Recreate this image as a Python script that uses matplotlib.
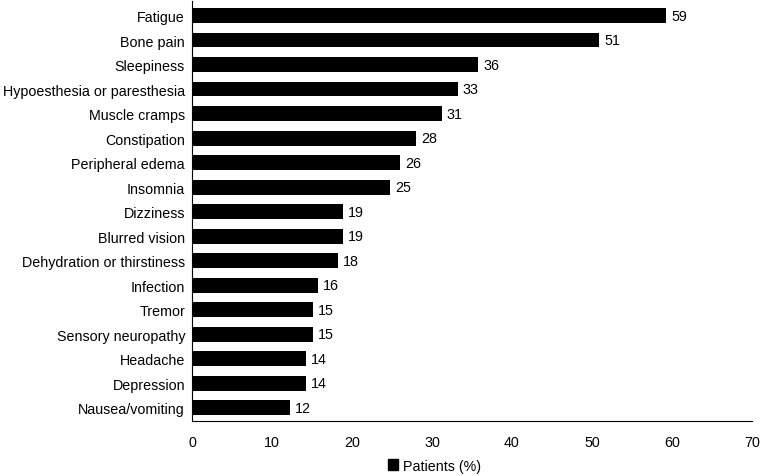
import matplotlib.pyplot as plt
from matplotlib.patches import Patch

plt.rcParams["font.family"] = ["Liberation Sans", "DejaVu Sans"]

SYMPTOMS = [
    "Fatigue",
    "Bone pain",
    "Sleepiness",
    "Hypoesthesia or paresthesia",
    "Muscle cramps",
    "Constipation",
    "Peripheral edema",
    "Insomnia",
    "Dizziness",
    "Blurred vision",
    "Dehydration or thirstiness",
    "Infection",
    "Tremor",
    "Sensory neuropathy",
    "Headache",
    "Depression",
    "Nausea/vomiting",
]

# bar lengths as drawn, and the rounded labels printed next to them
PATIENTS_PCT = [59.3, 50.9, 35.8, 33.2, 31.2, 28.0, 26.0, 24.8, 18.9, 18.9,
                18.3, 15.7, 15.1, 15.1, 14.3, 14.3, 12.3]
LABELS = [59, 51, 36, 33, 31, 28, 26, 25, 19, 19, 18, 16, 15, 15, 14, 14, 12]

X_TICKS = [0, 10, 20, 30, 40, 50, 60, 70]


def main():
    fig = plt.figure(figsize=(7.61, 4.77), dpi=100)
    ax = fig.add_axes([0.2523, 0.1153, 0.7357, 0.8807])

    positions = list(range(len(SYMPTOMS)))
    ax.barh(positions, PATIENTS_PCT, height=0.6, color="black")

    for pos, value, label in zip(positions, PATIENTS_PCT, LABELS):
        ax.annotate(str(label), (value, pos), xytext=(3.5, 0),
                    textcoords="offset points", va="center", ha="left",
                    fontsize=10.3)

    ax.set_yticks(positions)
    ax.set_yticklabels(SYMPTOMS, fontsize=10.3)
    ax.set_ylim(len(SYMPTOMS) - 0.46, -0.6)
    ax.set_xlim(0, 70)
    ax.set_xticks(X_TICKS)
    ax.tick_params(axis="x", length=0, pad=10, labelsize=10.3)
    ax.tick_params(axis="y", length=0, pad=5)

    for side in ["top", "right"]:
        ax.spines[side].set_visible(False)
    for side in ["left", "bottom"]:
        ax.spines[side].set_linewidth(0.8)

    handle = Patch(facecolor="black", edgecolor="black", label="Patients (%)")
    fig.legend(handles=[handle], loc="center", bbox_to_anchor=(0.571, 0.022),
               frameon=False, fontsize=10.3, handlelength=0.7,
               handleheight=0.7, handletextpad=0.4)

    fig.savefig("out.png", dpi=100)
    plt.close(fig)


if __name__ == "__main__":
    main()
